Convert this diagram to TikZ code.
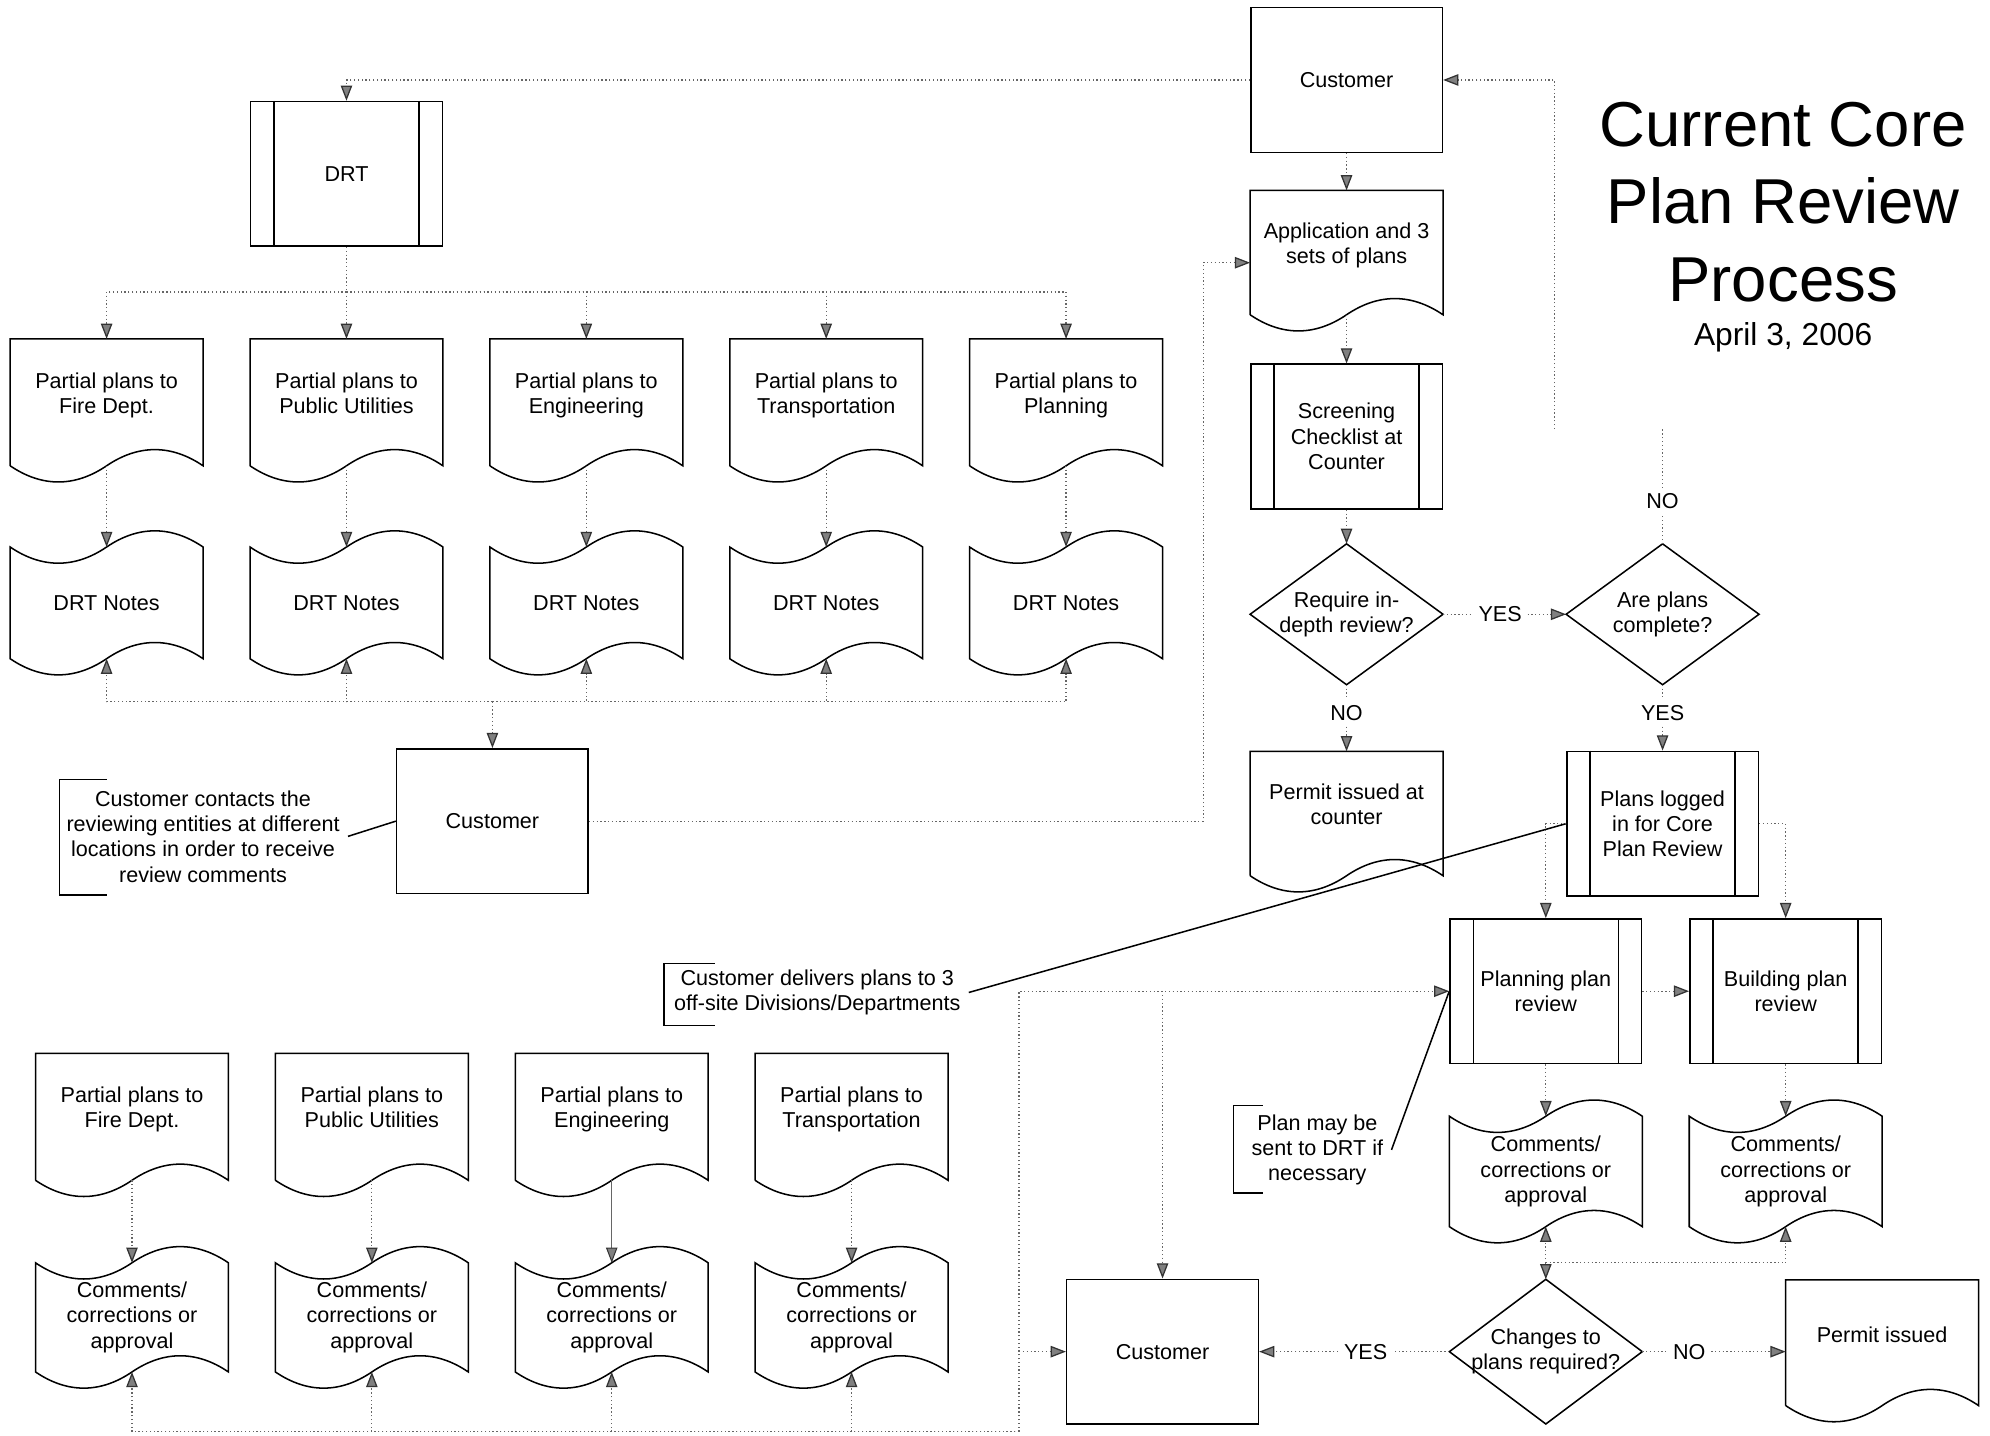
\documentclass[tikz,border=0pt]{standalone}
\usepackage{fontspec}
\setmainfont{Liberation Sans}
\usetikzlibrary{shapes,arrows.meta,calc}

% document symbol: straight top, wavy bottom
\newcommand{\docoutline}[1]{%
  \draw (#1.south west) -- (#1.north west) -- (#1.north east) -- (#1.south east)
    .. controls ($(#1.south east)+(-25,-17)$) and ($(#1.south)+(25,-17)$) .. (#1.south)
    .. controls ($(#1.south)+(-25,17)$) and ($(#1.south west)+(25,17)$) .. (#1.south west);}
% tape symbol: wavy top and bottom
\newcommand{\tapeoutline}[1]{%
  \draw (#1.north west) .. controls ($(#1.north west)+(25,17)$) and ($(#1.north)+(-25,17)$) .. (#1.north)
    .. controls ($(#1.north)+(25,-17)$) and ($(#1.north east)+(-25,-17)$) .. (#1.north east)
    -- (#1.south east)
    .. controls ($(#1.south east)+(-25,-17)$) and ($(#1.south)+(25,-17)$) .. (#1.south)
    .. controls ($(#1.south)+(-25,17)$) and ($(#1.south west)+(25,17)$) .. (#1.south west) -- cycle;}

\tikzset{
  box/.style={draw, rectangle, minimum width=75.5pt, minimum height=57pt, inner sep=1pt, align=center},
  docbox/.style={rectangle, outer sep=0pt, minimum width=76pt, minimum height=50pt, inner sep=1pt,
    label={[align=center, inner sep=1pt, yshift=2.2pt]center:#1\strut}},
  tapebox/.style={rectangle, outer sep=0pt, minimum width=76pt, minimum height=44pt, inner sep=1pt, align=center},
  decbox/.style={rectangle, outer sep=0pt, minimum width=76pt, minimum height=55.5pt, inner sep=1pt, align=center},
  conn/.style={densely dotted, black!60, line width=0.5pt},
  arr/.style={conn, -{Triangle[length=6pt, width=4.5pt, fill=black!50, color=black!80]}},
  lbl/.style={inner sep=2pt},
  note/.style={align=center, inner sep=3pt}
}

\begin{document}
\begin{tikzpicture}[x=0.5pt, y=-0.5pt, font=\fontsize{8.5pt}{10pt}\selectfont, line width=0.6pt]
\useasboundingbox (0,0) rectangle (1568,1131);

% title
\node (title) at (1405,159) [font=\fontsize{25pt}{30.5pt}\selectfont, align=center] {Current Core\\Plan Review\\Process};
\node (date) at (1405,266) [font=\fontsize{12.5pt}{15pt}\selectfont] {April 3, 2006};

% counter side
\node[box] (cust1) at (1061,63) {Customer};
\node[docbox={Application and 3\\sets of plans}, minimum height=49pt] (app) at (1061,199) {};
\node[box] (screen) at (1061,344) {Screening\\Checklist at\\Counter};
\node[decbox] (q1) at (1061,484) {Require in-\\depth review?};
\node[decbox] (q2) at (1310,484) {Are plans\\complete?};
\node[lbl] (yes1) at (1182,484) {YES};
\node[lbl] (no1) at (1310,395) {NO};
\node[lbl] (no2) at (1061,562) {NO};
\node[lbl] (yes2) at (1310,562) {YES};
\node[docbox={Permit issued at\\counter}, minimum height=49pt] (permc) at (1061,641) {};
\node[box] (logged) at (1310,649) {Plans logged\\in for Core\\Plan Review};

% core plan review
\node[box] (planrev) at (1218,781) {Planning plan\\review};
\node[box] (bldrev) at (1407,781) {Building plan\\review};
\node[tapebox, minimum height=43.5pt] (cmplan) at (1218,923) {Comments/\\corrections or\\approval};
\node[tapebox, minimum height=43.5pt] (cmbld) at (1407,923) {Comments/\\corrections or\\approval};
\node[decbox, minimum height=57pt] (q3) at (1218,1065) {Changes to\\plans required?};
\node[box] (cust3) at (916,1065) {Customer};
\node[lbl] (yes3) at (1076,1065) {YES};
\node[lbl] (no3) at (1331,1065) {NO};
\node[docbox={Permit issued}, minimum height=49.5pt] (permit) at (1483,1058) {};

% DRT
\node[box] (drt) at (273,137) {DRT};
\node[docbox={Partial plans to\\Fire Dept.}] (ptfire) at (84,317) {};
\node[docbox={Partial plans to\\Public Utilities}] (ptutil) at (273,317) {};
\node[docbox={Partial plans to\\Engineering}] (pteng) at (462,317) {};
\node[docbox={Partial plans to\\Transportation}] (pttrans) at (651,317) {};
\node[docbox={Partial plans to\\Planning}] (ptplan) at (840,317) {};
\node[tapebox] (ntfire) at (84,475) {DRT Notes};
\node[tapebox] (ntutil) at (273,475) {DRT Notes};
\node[tapebox] (nteng) at (462,475) {DRT Notes};
\node[tapebox] (nttrans) at (651,475) {DRT Notes};
\node[tapebox] (ntplan) at (840,475) {DRT Notes};
\node[box] (cust2) at (388,647) {Customer};

% off-site divisions
\node[docbox={Partial plans to\\Fire Dept.}] (pbfire) at (104,880) {};
\node[docbox={Partial plans to\\Public Utilities}] (pbutil) at (293,880) {};
\node[docbox={Partial plans to\\Engineering}] (pbeng) at (482,880) {};
\node[docbox={Partial plans to\\Transportation}] (pbtrans) at (671,880) {};
\node[tapebox, minimum height=43pt] (cbfire) at (104,1038) {Comments/\\corrections or\\approval};
\node[tapebox, minimum height=43pt] (cbutil) at (293,1038) {Comments/\\corrections or\\approval};
\node[tapebox, minimum height=43pt] (cbeng) at (482,1038) {Comments/\\corrections or\\approval};
\node[tapebox, minimum height=43pt] (cbtrans) at (671,1038) {Comments/\\corrections or\\approval};

% notes
\node[note] (noteA) at (160,659) {Customer contacts the\\reviewing entities at different\\locations in order to receive\\review comments};
\node[note] (noteB) at (644,782) {Customer delivers plans to 3\\off-site Divisions/Departments};
\node[note] (noteC) at (1038,906) {Plan may be\\sent to DRT if\\necessary};

% outlines
\foreach \n in {app,permc,permit,ptfire,ptutil,pteng,pttrans,ptplan,pbfire,pbutil,pbeng,pbtrans} {\docoutline{\n}}
\foreach \n in {ntfire,ntutil,nteng,nttrans,ntplan,cmplan,cmbld,cbfire,cbutil,cbeng,cbtrans} {\tapeoutline{\n}}
\foreach \n in {q1,q2,q3}
  \draw (\n.north) -- (\n.east) -- (\n.south) -- (\n.west) -- cycle;
\foreach \n in {drt,screen,logged,planrev,bldrev}
  \draw ([xshift=9.5pt]\n.north west) -- ([xshift=9.5pt]\n.south west)
        ([xshift=-9.5pt]\n.north east) -- ([xshift=-9.5pt]\n.south east);

% brackets and leader lines
\draw (84,614) -- (47,614) -- (47,705) -- (84,705);   % note A
\draw (noteA.east) -- (cust2.west);
\draw (563,759) -- (523,759) -- (523,808) -- (563,808);   % note B
\draw (noteB.east) -- (logged.west);
\draw (995,871) -- (972,871) -- (972,940) -- (995,940);   % note C
\draw (noteC.east) -- (planrev.west);

% bus points
\coordinate (drtbus) at (273,230);
\coordinate (notesbus) at (388,553);
\coordinate (appin) at (948,207);
\coordinate (noend) at (1310,338);
\coordinate (backup) at (1225,338);
\coordinate (cmbus) at (1218,995);
\coordinate (lbus) at (803,1128);
\coordinate (lturn) at (803,781);

% counter flow
\draw[arr] (cust1.west) -| (drt.north);
\draw[arr] (cust1.south) -- (app.north);
\draw[arr] (app.south) -- (screen.north);
\draw[arr] (screen.south) -- (q1.north);
\draw[conn] (q1.east) -- (yes1);
\draw[arr] (yes1) -- (q2.west);
\draw[conn] (q2.north) -- (no1);
\draw[conn] (no1) -- (noend);
\draw[arr] (backup) |- (cust1.east);
\draw[conn] (q1.south) -- (no2);
\draw[arr] (no2) -- (permc.north);
\draw[conn] (q2.south) -- (yes2);
\draw[arr] (yes2) -- (logged.north);

% core review flow
\draw[arr] (logged.west) -| (planrev.north);
\draw[arr] (logged.east) -| (bldrev.north);
\draw[arr] (planrev.east) -- (bldrev.west);
\draw[arr] (planrev.south) -- (cmplan.north);
\draw[arr] (bldrev.south) -- (cmbld.north);
\draw[arr] (cmbus) -- (cmplan.south);
\draw[arr] (cmbus) -| (cmbld.south);
\draw[arr] (cmbus) -- (q3.north);
\draw[conn] (q3.west) -- (yes3);
\draw[arr] (yes3) -- (cust3.east);
\draw[conn] (q3.east) -- (no3);
\draw[arr] (no3) -- (no3 -| permit.west);

% DRT flow
\draw[conn] (drt.south) -- (drtbus);
\draw[arr] (drtbus) -| (ptfire.north);
\draw[arr] (drtbus) -- (ptutil.north);
\draw[arr] (drtbus) -| (pteng.north);
\draw[arr] (drtbus) -| (pttrans.north);
\draw[arr] (drtbus) -| (ptplan.north);
\draw[arr] (ptfire.south) -- (ntfire.north);
\draw[arr] (ptutil.south) -- (ntutil.north);
\draw[arr] (pteng.south) -- (nteng.north);
\draw[arr] (pttrans.south) -- (nttrans.north);
\draw[arr] (ptplan.south) -- (ntplan.north);
\draw[arr] (notesbus) -| (ntfire.south);
\draw[arr] (notesbus) -| (ntutil.south);
\draw[arr] (notesbus) -| (nteng.south);
\draw[arr] (notesbus) -| (nttrans.south);
\draw[arr] (notesbus) -| (ntplan.south);
\draw[arr] (notesbus) -- (cust2.north);
\draw[arr] (cust2.east) -| (appin) -- (appin -| app.west);

% off-site flow
\draw[arr] (pbfire.south) -- (cbfire.north);
\draw[arr] (pbutil.south) -- (cbutil.north);
\draw[arr, solid, line width=0.4pt] (pbeng.south) -- (cbeng.north);
\draw[arr] (pbtrans.south) -- (cbtrans.north);
\draw[arr] (lbus) -| (cbfire.south);
\draw[arr] (lbus) -| (cbutil.south);
\draw[arr] (lbus) -| (cbeng.south);
\draw[arr] (lbus) -| (cbtrans.south);
\draw[arr] (lbus) -- (lturn) -- (planrev.west);
\draw[arr] (lbus |- cust3.west) -- (cust3.west);
\draw[arr] (lturn -| cust3.north) -- (cust3.north);
\end{tikzpicture}
\end{document}
